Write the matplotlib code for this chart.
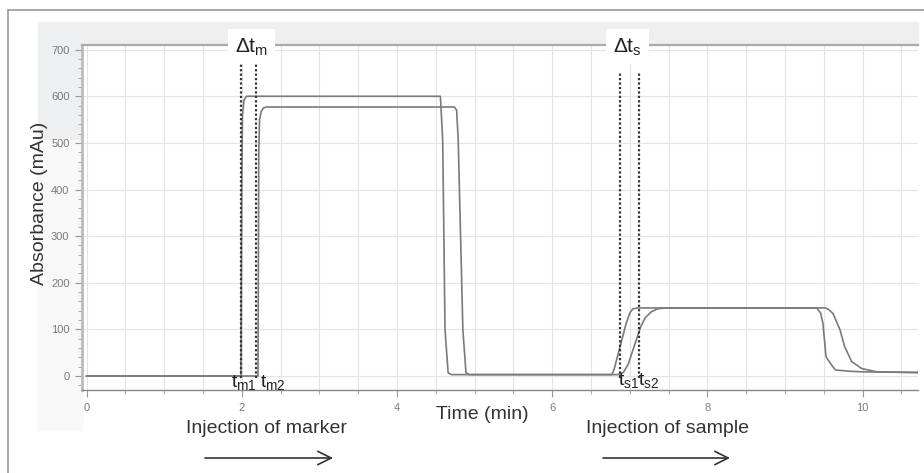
import matplotlib
matplotlib.use("Agg")
import matplotlib.pyplot as plt
from matplotlib.patches import Rectangle, FancyArrowPatch
from matplotlib.lines import Line2D
from matplotlib.ticker import MultipleLocator

plt.rcParams['font.family'] = ['Liberation Sans', 'DejaVu Sans']
plt.rcParams['mathtext.default'] = 'regular'

# trace 1: marker (no retention) then sample, sharp fronts
trace1_time = [0, 1.99, 2.00, 2.01, 2.03, 2.06, 4.40, 4.56, 4.57, 4.59, 4.62, 4.66, 4.70,
               6.77, 6.80, 6.95, 7.00, 7.04, 7.10, 9.41, 9.46, 9.49, 9.53, 9.60, 9.65,
               9.71, 9.85, 10.0, 10.72]
trace1_abs = [0, 0, 400, 560, 592, 600, 600, 600, 570, 506, 99, 7, 3,
              3, 15, 110, 135, 144, 146, 146, 135, 113, 41, 24, 13,
              12, 10, 9, 8]

# trace 2: marker and sample, retained / dispersed
trace2_time = [0, 2.21, 2.22, 2.23, 2.25, 2.28, 2.32, 4.74, 4.77, 4.79, 4.85, 4.89, 4.93,
               6.85, 6.92, 6.98, 7.04, 7.09, 7.14, 7.20, 7.28, 7.36, 7.45,
               9.52, 9.56, 9.62, 9.71, 9.77, 9.86, 9.99, 10.18, 10.72]
trace2_abs = [0, 0, 480, 550, 567, 575, 577, 577, 570, 506, 99, 7, 3,
              3, 8, 25, 55, 80, 105, 125, 138, 144, 146,
              146, 143, 134, 99, 63, 31, 16, 9, 7]

marker_lines = [1.99, 2.19]
sample_lines = [6.88, 7.12]
marker_top = 680
sample_top = 652

W, H = 924, 473
def fx(px): return px / W
def fy(py): return 1 - py / H

fig = plt.figure(figsize=(W / 100, H / 100), dpi=100)

# screenshot backdrop bits
fig.add_artist(Rectangle((fx(38), fy(45)), fx(918) - fx(38), fy(22) - fy(45),
                         transform=fig.transFigure, color='#eeeff0', zorder=-2))
fig.add_artist(Rectangle((fx(38), fy(140)), fx(82) - fx(38), fy(45) - fy(140),
                         transform=fig.transFigure, color='#eeeff0', zorder=-2))
fig.add_artist(Rectangle((fx(38), fy(430)), fx(82) - fx(38), fy(140) - fy(430),
                         transform=fig.transFigure, color='#f8f8f8', zorder=-2))
fig.add_artist(Line2D([fx(8), fx(8)], [0, fy(10)], transform=fig.transFigure,
                      color='#9a9a9a', lw=1.2))
fig.add_artist(Line2D([fx(8), 1], [fy(10), fy(10)], transform=fig.transFigure,
                      color='#9a9a9a', lw=1.2))

ax = fig.add_axes([fx(82), fy(390), fx(918) - fx(82), fy(45) - fy(390)])
ax.set_xlim(-0.058, 10.715)
ax.set_ylim(-30, 710)

ax.plot(trace1_time, trace1_abs, color='#7a7a7a', lw=1.2, zorder=3)
ax.plot(trace2_time, trace2_abs, color='#7a7a7a', lw=1.2, zorder=3)

ax.vlines(marker_lines, -5, marker_top, colors='#333333', linestyles=(0, (1, 1)), lw=1.6, zorder=4)
ax.vlines(sample_lines, -5, sample_top, colors='#333333', linestyles=(0, (1, 1)), lw=1.6, zorder=4)

ax.xaxis.set_major_locator(MultipleLocator(2))
ax.xaxis.set_minor_locator(MultipleLocator(0.5))
ax.yaxis.set_major_locator(MultipleLocator(100))
ax.yaxis.set_minor_locator(MultipleLocator(20))
ax.grid(True, which='major', color='#e4e4e4', lw=0.8)
ax.grid(True, which='minor', axis='x', color='#e4e4e4', lw=0.8)
ax.set_axisbelow(True)

ax.tick_params(axis='both', which='major', direction='out', length=5, color='#999999',
               labelsize=8, labelcolor='#7a7a7a', pad=4)
ax.tick_params(axis='both', which='minor', direction='out', length=3, color='#999999')
ax.spines['right'].set_visible(False)
ax.spines['top'].set_color('#aaaaaa')
ax.spines['top'].set_linewidth(1.6)
ax.spines['left'].set_color('#bbbbbb')
ax.spines['left'].set_linewidth(2)
ax.spines['bottom'].set_color('#888888')
ax.spines['bottom'].set_linewidth(1.0)

# labels on the dotted lines
box = dict(facecolor='white', edgecolor='none', pad=5)
ax.text(2.13, 706, 'Δt$_{m}$', fontsize=15, ha='center', va='center', color='#222222',
        bbox=box, clip_on=False, zorder=6)
ax.text(6.97, 706, 'Δt$_{s}$', fontsize=15, ha='center', va='center', color='#222222',
        bbox=box, clip_on=False, zorder=6)
ax.text(2.03, -14, 't$_{m1}$', fontsize=14, ha='center', va='center', color='#222222', clip_on=False)
ax.text(2.40, -14, 't$_{m2}$', fontsize=14, ha='center', va='center', color='#222222', clip_on=False)
ax.text(6.99, -10, 't$_{s1}$', fontsize=14, ha='center', va='center', color='#222222', clip_on=False)
ax.text(7.25, -10, 't$_{s2}$', fontsize=14, ha='center', va='center', color='#222222', clip_on=False)

fig.text(fx(40), fy(203), 'Absorbance (mAu)', rotation=90, fontsize=14,
         ha='center', va='center', color='#333333')
fig.text(fx(482), fy(414), 'Time (min)', fontsize=14, ha='center', va='center', color='#333333')
fig.text(fx(267), fy(428), 'Injection of marker', fontsize=14, ha='center', va='center', color='#333333')
fig.text(fx(667), fy(428), 'Injection of sample', fontsize=14, ha='center', va='center', color='#333333')

arrow = dict(arrowstyle='->,head_length=0.6,head_width=0.3', color='#333333', lw=1.2,
             mutation_scale=16, shrinkA=0, shrinkB=0)
fig.add_artist(FancyArrowPatch((fx(205), fy(458)), (fx(333), fy(458)),
                               transform=fig.transFigure, **arrow))
fig.add_artist(FancyArrowPatch((fx(603), fy(458)), (fx(730), fy(458)),
                               transform=fig.transFigure, **arrow))

fig.savefig('out.png', dpi=100)
